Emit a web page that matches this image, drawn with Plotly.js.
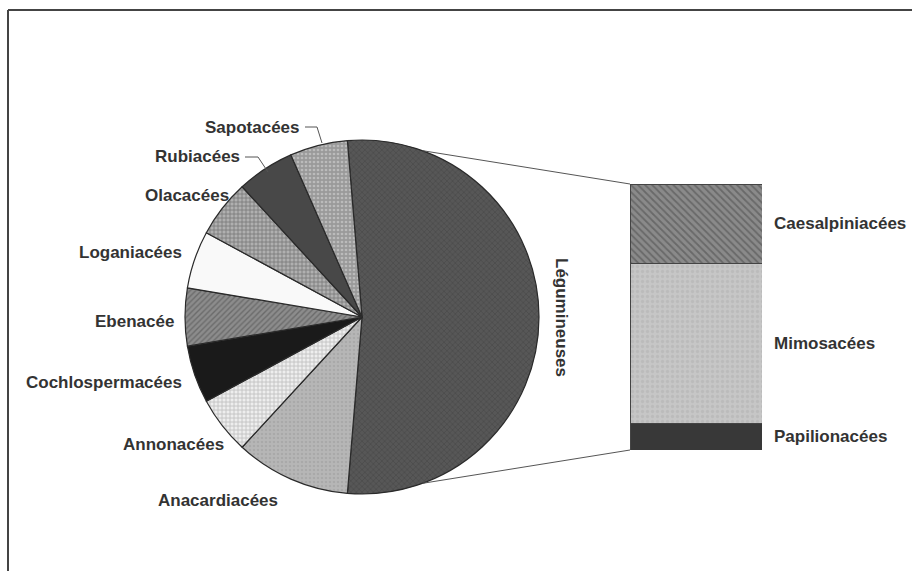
<!DOCTYPE html>
<html>
<head>
<meta charset="utf-8">
<script src="https://cdn.plot.ly/plotly-3.0.1.min.js"></script>
<style>html,body{margin:0;padding:0;background:#fff;}#chart{width:912px;height:571px;}</style>
</head>
<body>
<div id="chart"></div>
<script>
// ---- data ----
var families = ["Légumineuses", "Anacardiacées", "Annonacées", "Cochlospermacées", "Ebenacée",
                "Loganiacées", "Olacacées", "Rubiacées", "Sapotacées"];
var familyCounts = [10, 2, 1, 1, 1, 1, 1, 1, 1];
var subFamilies = ["Papilionacées", "Mimosacées", "Caesalpiniacées"];
var subCounts = [1, 6, 3];

// ---- styles ----
var pieColors   = ["#575757", "#b6b6b6", "#eeeeee", "#1a1a1a", "#8c8c8c", "#f9f9f9", "#b0b0b0", "#484848", "#9a9a9a"];
var pieShapes   = ["x", ".", "+", "", "/", "", "+", "", "."];
var pieFg       = ["#404040", "#9c9c9c", "#8c8c8c", "#000", "#4a4a4a", "#000", "#3c3c3c", "#000", "#dcdcdc"];
var barColors   = ["#383838", "#c6c6c6", "#8a8a8a"];
var barShapes   = ["", ".", "\\"];
var barFg       = ["#000", "#b0b0b0", "#474747"];

var W = 912, H = 571;
function px(x) { return x / W; }
function py(y) { return 1 - y / H; }

// pie geometry (pixels)
var cx = 362, cy = 317, R = 177;
// bar geometry (pixels)
var barL = 630, barR = 762, barT = 184, barB = 450;

var total = familyCounts.reduce(function (a, b) { return a + b; }, 0);
var subTotal = subCounts.reduce(function (a, b) { return a + b; }, 0);
var rotation = 90 - 180 * familyCounts[0] / total;

var font = {family: "Liberation Sans, Arial, sans-serif", size: 17, color: "#333"};

var traces = [{
  type: "pie",
  labels: families,
  values: familyCounts,
  sort: false,
  direction: "clockwise",
  rotation: rotation,
  textinfo: "none",
  hoverinfo: "label+value",
  showlegend: false,
  domain: {x: [px(cx - R), px(cx + R)], y: [py(cy + R), py(cy - R)]},
  marker: {
    colors: pieColors,
    line: {color: "#2a2a2a", width: 1.2},
    pattern: {shape: pieShapes, fgcolor: pieFg, fillmode: "overlay", size: 4, solidity: 0.35}
  }
}];

for (var i = 0; i < subFamilies.length; i++) {
  traces.push({
    type: "bar",
    x: [0],
    y: [subCounts[i]],
    name: subFamilies[i],
    width: 1,
    showlegend: false,
    xaxis: "x", yaxis: "y",
    marker: {
      color: barColors[i],
      line: {color: "#444", width: 1},
      pattern: {shape: barShapes[i], fgcolor: barFg[i], fillmode: "overlay", size: 5, solidity: 0.35}
    }
  });
}

// ---- annotations ----
var ann = [];
// pie labels: [text, x(px), y(px), xanchor]
var pieLabelPos = [
  [families[8], 302, 127, "right"],
  [families[7], 242, 157, "right"],
  [families[6], 231, 196, "right"],
  [families[5], 184, 252, "right"],
  [families[4], 176, 321, "right"],
  [families[3], 184, 382, "right"],
  [families[2], 226, 444, "right"],
  [families[1], 218, 500, "center"]
];
pieLabelPos.forEach(function (p) {
  ann.push({text: "<b>" + p[0] + "</b>", xref: "paper", yref: "paper", x: px(p[1]), y: py(p[2]),
            xanchor: p[3], yanchor: "middle", showarrow: false, font: font});
});
ann.push({text: "<b>" + families[0] + "</b>", xref: "paper", yref: "paper", x: px(562), y: py(cy),
          xanchor: "center", yanchor: "middle", textangle: 90, showarrow: false, font: font});

// bar labels at segment centres
var cum = 0;
for (var j = 0; j < subFamilies.length; j++) {
  var mid = cum + subCounts[j] / 2;
  cum += subCounts[j];
  ann.push({text: "<b>" + subFamilies[j] + "</b>", xref: "x", yref: "y", x: 0.5, y: mid,
            xanchor: "left", yanchor: "middle", xshift: 10, showarrow: false, font: font});
}

// ---- shapes ----
var shapes = [];
// frame (top and left edges)
shapes.push({type: "line", xref: "paper", yref: "paper", x0: px(8), x1: px(912), y0: py(10), y1: py(10), line: {color: "#444", width: 2}});
shapes.push({type: "line", xref: "paper", yref: "paper", x0: px(8), x1: px(8), y0: py(10), y1: py(571), line: {color: "#444", width: 2}});
// connectors from pie to bar
var a1 = 20 * Math.PI / 180, a2 = 160 * Math.PI / 180;
shapes.push({type: "line", xref: "paper", yref: "paper",
  x0: px(cx + R * Math.sin(a1)), y0: py(cy - R * Math.cos(a1)), x1: px(barL), y1: py(barT),
  line: {color: "#555", width: 1}});
shapes.push({type: "line", xref: "paper", yref: "paper",
  x0: px(cx + R * Math.sin(a2)), y0: py(cy - R * Math.cos(a2)), x1: px(barL), y1: py(barB),
  line: {color: "#555", width: 1}});
// leader lines
function path(pts) {
  return pts.map(function (p, k) { return (k ? "L" : "M") + px(p[0]) + "," + py(p[1]); }).join(" ");
}
shapes.push({type: "path", xref: "paper", yref: "paper", path: path([[305, 127], [317, 127], [322, 143]]), line: {color: "#555", width: 1}});
shapes.push({type: "path", xref: "paper", yref: "paper", path: path([[245, 157], [258, 157], [268, 172]]), line: {color: "#555", width: 1}});

var layout = {
  width: W, height: H,
  margin: {l: 0, r: 0, t: 0, b: 0},
  paper_bgcolor: "#fff", plot_bgcolor: "rgba(0,0,0,0)",
  barmode: "stack", bargap: 0,
  xaxis: {domain: [px(barL), px(barR)], range: [-0.5, 0.5], visible: false, fixedrange: true},
  yaxis: {domain: [py(barB), py(barT)], range: [0, subTotal], visible: false, fixedrange: true},
  annotations: ann,
  shapes: shapes
};

Plotly.newPlot("chart", traces, layout, {displayModeBar: false, staticPlot: true});
</script>
</body>
</html>
